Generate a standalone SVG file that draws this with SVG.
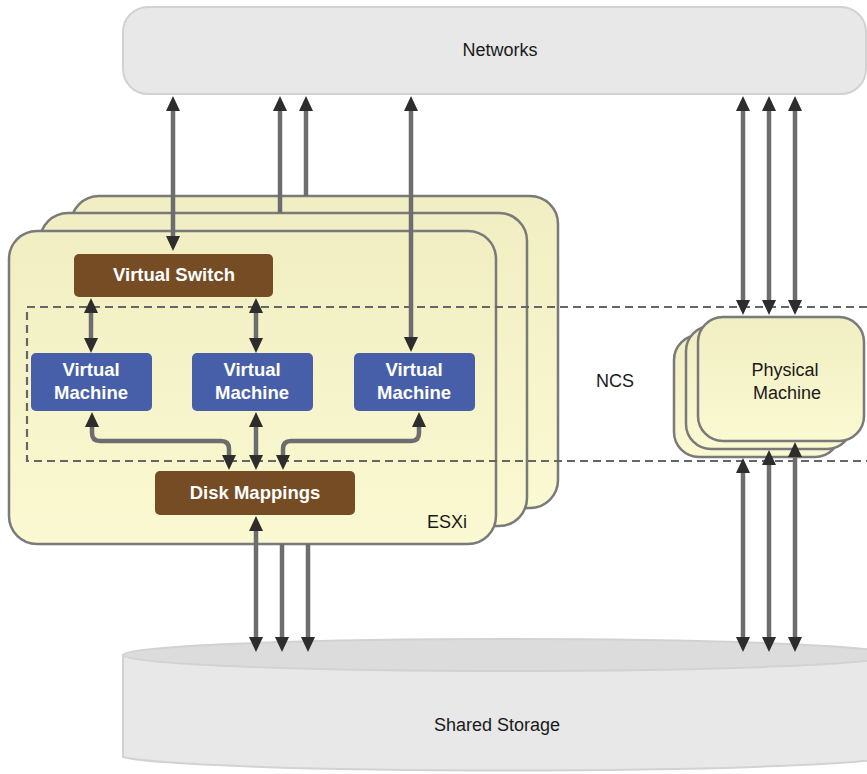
<svg xmlns="http://www.w3.org/2000/svg" width="867" height="774" viewBox="0 0 867 774">
<defs>
<linearGradient id="yel" x1="0" y1="0" x2="0" y2="1">
<stop offset="0" stop-color="#f1eec3"/>
<stop offset="1" stop-color="#fbf9d1"/>
</linearGradient>
<marker id="ah" viewBox="0 0 15 14" refX="3" refY="7" markerWidth="15" markerHeight="14" markerUnits="userSpaceOnUse" orient="auto-start-reverse">
<path d="M0,0 L15,7 L0,14 z" fill="#2d2d2d"/>
</marker>
<style>
.lbl{font-family:"Liberation Sans",Arial,sans-serif;font-size:18px;fill:#1a1a1a;text-anchor:middle}
.wl{font-family:"Liberation Sans",Arial,sans-serif;font-size:18.5px;font-weight:bold;fill:#ffffff;text-anchor:middle}
.esx{fill:url(#yel);stroke:#7a7a7a;stroke-width:2.5}
.brown{fill:#754c24}
.vm{fill:#475fa9}
.con{fill:none;stroke:#6d6d70;stroke-width:4.5}
.ncs{fill:none;stroke:#666;stroke-width:2.2;stroke-dasharray:8,5}
</style>
</defs>
<rect width="867" height="774" fill="#ffffff"/>
<g id="networks">
<rect x="123" y="7" width="743" height="87" rx="25" fill="#e8e8e8" stroke="#d2d2d2" stroke-width="2"/>
<text class="lbl" x="500" y="56">Networks</text>
</g>
<g id="shared-storage">
<path d="M123,655 V757 A390,16 0 0 0 893,757 V655 Z" fill="#e8e8e8" stroke="#d2d2d2" stroke-width="2"/>
<ellipse cx="508" cy="655" rx="385" ry="16" fill="#dcdcdc" stroke="#d2d2d2" stroke-width="2"/>
<text class="lbl" x="497" y="731">Shared Storage</text>
</g>
<g id="esxi">
<rect class="esx" x="71" y="196" width="487" height="312" rx="28"/>
<rect class="esx" x="40" y="213" width="487" height="313" rx="28"/>
<rect class="esx" x="9" y="231" width="487" height="313" rx="28"/>
<text class="lbl" x="447" y="528">ESXi</text>
</g>
<g id="ncs">
<path class="ncs" d="M880,307 H27 V461 H880"/>
<text class="lbl" x="615" y="387">NCS</text>
</g>
<g id="physical-machine">
<rect class="esx" x="674" y="335" width="166" height="122" rx="25"/>
<rect class="esx" x="686" y="326" width="166" height="123" rx="25"/>
<rect class="esx" x="698" y="317" width="166" height="124" rx="25"/>
<text class="lbl" x="785" y="376">Physical</text>
<text class="lbl" x="787" y="399">Machine</text>
</g>
<g id="connectors">
<line class="con" x1="173" y1="108" x2="173" y2="239" marker-start="url(#ah)" marker-end="url(#ah)"/>
<line class="con" x1="280" y1="108" x2="280" y2="213" marker-start="url(#ah)"/>
<line class="con" x1="306" y1="108" x2="306" y2="196" marker-start="url(#ah)"/>
<line class="con" x1="411" y1="108" x2="411" y2="340" marker-start="url(#ah)" marker-end="url(#ah)"/>
<line class="con" x1="91" y1="310" x2="91" y2="341" marker-start="url(#ah)" marker-end="url(#ah)"/>
<line class="con" x1="256" y1="310" x2="256" y2="341" marker-start="url(#ah)" marker-end="url(#ah)"/>
<path class="con" d="M92,424 V433 Q92,441 100,441 H221 Q229,441 229,449 V458" marker-start="url(#ah)" marker-end="url(#ah)"/>
<line class="con" x1="256" y1="424" x2="256" y2="458" marker-start="url(#ah)" marker-end="url(#ah)"/>
<path class="con" d="M419,424 V433 Q419,441 411,441 H291 Q283,441 283,449 V458" marker-start="url(#ah)" marker-end="url(#ah)"/>
<line class="con" x1="256" y1="528" x2="256" y2="640" marker-start="url(#ah)" marker-end="url(#ah)"/>
<line class="con" x1="282" y1="544" x2="282" y2="640" marker-end="url(#ah)"/>
<line class="con" x1="308" y1="544" x2="308" y2="640" marker-end="url(#ah)"/>
<line class="con" x1="743" y1="108" x2="743" y2="303" marker-start="url(#ah)" marker-end="url(#ah)"/>
<line class="con" x1="769" y1="108" x2="769" y2="303" marker-start="url(#ah)" marker-end="url(#ah)"/>
<line class="con" x1="795" y1="108" x2="795" y2="303" marker-start="url(#ah)" marker-end="url(#ah)"/>
<line class="con" x1="743" y1="470" x2="743" y2="640" marker-start="url(#ah)" marker-end="url(#ah)"/>
<line class="con" x1="769" y1="462" x2="769" y2="640" marker-start="url(#ah)" marker-end="url(#ah)"/>
<line class="con" x1="795" y1="454" x2="795" y2="640" marker-start="url(#ah)" marker-end="url(#ah)"/>
</g>
<g id="virtual-switch">
<rect class="brown" x="74" y="254" width="199" height="43" rx="5"/>
<text class="wl" x="174" y="281">Virtual Switch</text>
</g>
<g id="vm1">
<rect class="vm" x="31" y="353" width="121" height="58" rx="5"/>
<text class="wl" x="91" y="376">Virtual</text>
<text class="wl" x="91" y="399">Machine</text>
</g>
<g id="vm2">
<rect class="vm" x="192" y="353" width="121" height="58" rx="5"/>
<text class="wl" x="252" y="376">Virtual</text>
<text class="wl" x="252" y="399">Machine</text>
</g>
<g id="vm3">
<rect class="vm" x="354" y="353" width="121" height="58" rx="5"/>
<text class="wl" x="414" y="376">Virtual</text>
<text class="wl" x="414" y="399">Machine</text>
</g>
<g id="disk-mappings">
<rect class="brown" x="155" y="471" width="200" height="44" rx="5"/>
<text class="wl" x="255" y="499">Disk Mappings</text>
</g>
</svg>
